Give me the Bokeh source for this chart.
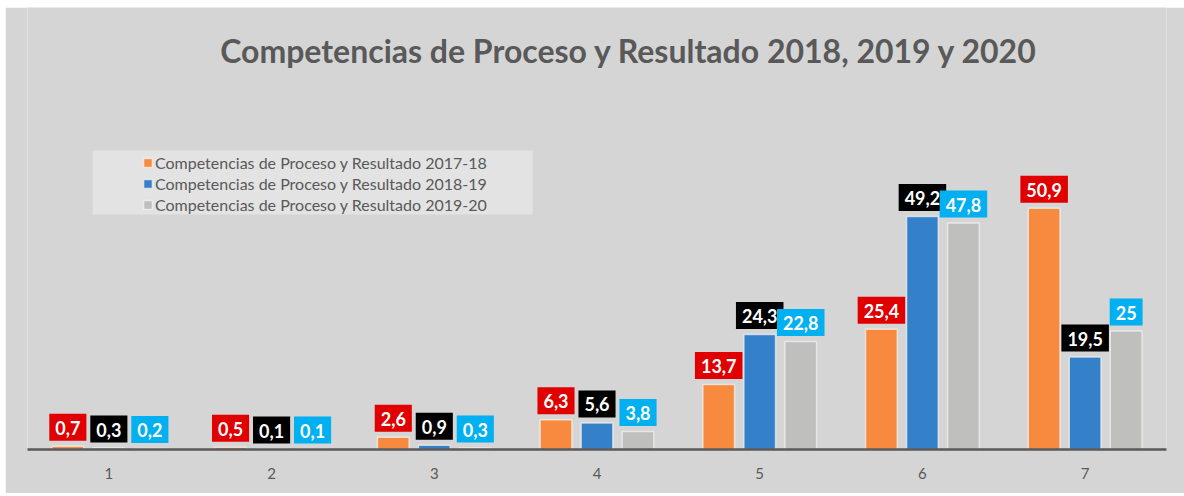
from bokeh.plotting import figure
from bokeh.models import ColumnDataSource, FactorRange, Range1d, Label, Legend, LegendItem, BoxAnnotation
from bokeh.core.properties import value
from bokeh.transform import dodge
from bokeh.embed import file_html
from bokeh.resources import INLINE

categories = ["1", "2", "3", "4", "5", "6", "7"]
series_names = [
    "Competencias de Proceso y Resultado 2017-18",
    "Competencias de Proceso y Resultado 2018-19",
    "Competencias de Proceso y Resultado 2019-20",
]
v2017_18 = [0.7, 0.5, 2.6, 6.3, 13.7, 25.4, 50.9]
v2018_19 = [0.3, 0.1, 0.9, 5.6, 24.3, 49.2, 19.5]
v2019_20 = [0.2, 0.1, 0.3, 3.8, 22.8, 47.8, 25]
title_text = "Competencias de Proceso y Resultado 2018, 2019 y 2020"

bar_colors = ["#f78a3e", "#3480c9", "#bfbfbd"]
label_bg = ["#e00000", "#000000", "#00b0f0"]
offsets = [-0.252, 0.0, 0.252]

def fmt(v):
    if float(v).is_integer():
        return str(int(v))
    return f"{v:.1f}".replace(".", ",")

BG = "#d5d5d5"
p = figure(
    x_range=FactorRange(*categories),
    y_range=Range1d(0, 93.3),
    width=1179, height=486,
    output_backend="svg", toolbar_location=None,
    min_border_top=0, min_border_left=22, min_border_right=18, min_border_bottom=44,
)
p.margin = (7, 0, 0, 5)
p.background_fill_color = BG
p.border_fill_color = BG
p.outline_line_color = None
p.xgrid.grid_line_color = None
p.ygrid.grid_line_color = None
p.yaxis.visible = False

# legend background box
p.add_layout(BoxAnnotation(left=0.40, right=3.104, bottom=49.6, top=63.1,
                           fill_color="#ffffff", fill_alpha=0.35, line_color=None, level="underlay"))

items = []
for vals, name, col, lbg, off in zip([v2017_18, v2018_19, v2019_20], series_names, bar_colors, label_bg, offsets):
    src = ColumnDataSource(dict(x=categories, y=vals, lab=[fmt(v) for v in vals]))
    r = p.vbar(x=dodge("x", off, range=p.x_range), top="y", width=0.195, source=src,
               fill_color=col, line_color="#f4f4f4", line_alpha=0.7, line_width=1.5)
    items.append(LegendItem(label=name, renderers=[r]))
    p.text(x=dodge("x", off, range=p.x_range), y="y", text="lab", source=src,
           y_offset=-19, text_align="center", text_baseline="middle",
           text_color="white", text_font=value("Lato"), text_font_style="bold",
           text_font_size="18px", background_fill_color=lbg,
           padding=dict(left=6, right=6, top=7, bottom=6))

legend = Legend(items=items, location=(115, 235), padding=0, margin=0, spacing=1,
                glyph_width=11, glyph_height=11, label_height=20, label_standoff=2,
                label_text_font="Lato", label_text_font_size="16px", label_text_color="#595959",
                background_fill_alpha=0, border_line_alpha=0)
p.add_layout(legend)

p.add_layout(Label(x=3.70, y=84.2, text=title_text, text_align="center", text_baseline="middle",
                   text_font="Lato", text_font_style="bold", text_font_size="32px", text_color="#595959"))

p.xaxis.axis_line_color = "#595959"
p.xaxis.axis_line_width = 2.5
p.xaxis.major_tick_line_color = None
p.xaxis.minor_tick_line_color = None
p.xaxis.major_label_text_font = "Lato"
p.xaxis.major_label_text_font_size = "15px"
p.xaxis.major_label_text_color = "#595959"
p.xaxis.major_label_standoff = 12

open("out.html", "w").write(file_html(p, INLINE))
